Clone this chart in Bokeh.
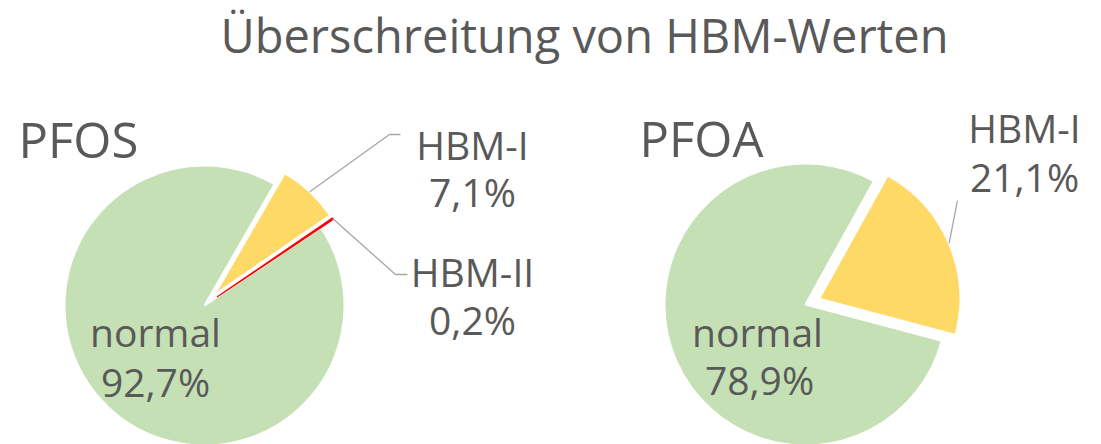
import math
from bokeh.plotting import figure
from bokeh.models import Range1d
from bokeh.core.properties import value
from bokeh.embed import file_html
from bokeh.resources import INLINE

# ---- data ----
title_text = "Überschreitung von HBM-Werten"
pfos_name = "PFOS"
pfos_categories = ["HBM-I", "HBM-II", "normal"]
pfos_values = [7.1, 0.2, 92.7]
pfoa_name = "PFOA"
pfoa_categories = ["HBM-I", "normal"]
pfoa_values = [21.1, 78.9]

# ---- style ----
colors = {"normal": "#C5E0B4", "HBM-I": "#FFD966", "HBM-II": "#FF0000"}
exploded = {"HBM-I": 15, "HBM-II": 15}
TXT = "#595959"
LEAD = "#A6A6A6"
FONT = "Open Sans"

W, H = 1085, 444
p = figure(width=W, height=H, output_backend="svg", toolbar_location=None,
           x_range=Range1d(0, W), y_range=Range1d(444 - H, 444),
           min_border=0, outline_line_color=None)
p.axis.visible = False
p.grid.visible = False
p.background_fill_color = "white"


def Y(iy):
    return 444 - iy


def fmt(v):
    return ("%.1f%%" % v).replace(".", ",")


def draw_pie(cx, cy, r, start_deg, cats, vals):
    total = sum(vals)
    a = start_deg
    geo = {}
    for c, v in zip(cats, vals):
        span = 360.0 * v / total
        geo[c] = (a, a + span)
        a += span
    order = sorted(cats, key=lambda c: 0 if c == "normal" else (1 if c == "HBM-I" else 2))
    for c in order:
        a0, a1 = geo[c]
        mid = math.radians((a0 + a1) / 2)
        d = exploded.get(c, 0)
        x = cx + d * math.sin(mid)
        y = Y(cy) + d * math.cos(mid)
        if c == "HBM-II":
            lc, lw = colors[c], 1.2
        else:
            lc, lw = "white", 2
        p.wedge(x=[x], y=[y], radius=r,
                start_angle=math.pi / 2 - math.radians(a1),
                end_angle=math.pi / 2 - math.radians(a0),
                fill_color=colors[c], line_color=lc, line_width=lw)
        geo[c] = (a0, a1, x, y, mid, r)
    return geo


def arc_point(g):
    a0, a1, x, y, mid, r = g
    return x + r * math.sin(mid), y + r * math.cos(mid)


def txt(x, iy, s, size, align="center"):
    # empirical baseline correction for the svg text renderer
    px = float(size.replace("px", ""))
    p.text(x=[x], y=[Y(iy - 0.5 * px)], text=[s], text_font=value(FONT),
           text_font_size=size, text_color=TXT, text_align=align,
           text_baseline="alphabetic")


# PFOS pie
g1 = draw_pie(204, 305, 140, 30, pfos_categories, pfos_values)
# PFOA pie
g2 = draw_pie(805, 304, 141, 29, pfoa_categories, pfoa_values)

# leader lines
sx, sy = arc_point(g1["HBM-I"])
p.line([sx, 389, 400], [sy, Y(134), Y(134)], line_color=LEAD, line_width=1.3)
sx, sy = arc_point(g1["HBM-II"])
p.line([sx, 395, 407], [sy, Y(274), Y(274)], line_color=LEAD, line_width=1.3)
sx, sy = arc_point(g2["HBM-I"])
p.line([sx, 957], [sy, Y(200)], line_color=LEAD, line_width=1.3)

# texts
txt(584, 58, title_text, "47px")
txt(18, 163, pfos_name, "49px", "left")
txt(639, 162, pfoa_name, "49px", "left")

vals1 = dict(zip(pfos_categories, pfos_values))
vals2 = dict(zip(pfoa_categories, pfoa_values))
txt(472, 163, pfos_categories[0], "39px")
txt(472, 210, fmt(vals1["HBM-I"]), "39px")
txt(472, 290, pfos_categories[1], "39px")
txt(472, 338, fmt(vals1["HBM-II"]), "39px")
txt(155, 350, pfos_categories[2], "39px")
txt(155, 400, fmt(vals1["normal"]), "39px")

txt(1024, 146, pfoa_categories[0], "39px")
txt(1024, 195, fmt(vals2["HBM-I"]), "39px")
txt(757, 350, pfoa_categories[1], "39px")
txt(759, 398, fmt(vals2["normal"]), "39px")

open("out.html", "w").write(file_html(p, INLINE))
